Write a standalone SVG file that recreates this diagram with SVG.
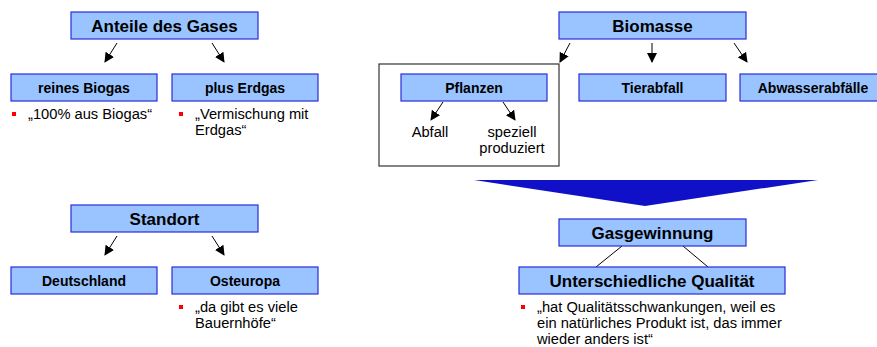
<svg xmlns="http://www.w3.org/2000/svg" width="877" height="347" viewBox="0 0 877 347">
<style>
.box{fill:#99c4ff;stroke:#2b2bdc;stroke-width:1.2}
.tb{font-family:"Liberation Sans",Arial,sans-serif;font-weight:bold;fill:#000;text-anchor:middle}
.t{font-family:"Liberation Sans",Arial,sans-serif;font-size:14.7px;fill:#000}
.c{text-anchor:middle}
.bul{fill:#ff0000}
.arr{stroke:#000;stroke-width:1;fill:none;marker-end:url(#ah)}
.ln{stroke:#000;stroke-width:1;fill:none}
</style>
<defs>
<marker id="ah" viewBox="0 0 10 10" refX="9" refY="5" markerWidth="10" markerHeight="10" markerUnits="userSpaceOnUse" orient="auto">
<path d="M0,0 L10,5 L0,10 z" fill="#000"/>
</marker>
</defs>
<rect width="877" height="347" fill="#fff"/>

<g id="connectors">
<line class="arr" x1="117" y1="43" x2="105" y2="62"/>
<line class="arr" x1="212" y1="43" x2="224" y2="62"/>
<line class="arr" x1="117" y1="236" x2="105" y2="255"/>
<line class="arr" x1="212" y1="236" x2="224" y2="255"/>
<line class="arr" x1="570" y1="43" x2="560" y2="62"/>
<line class="arr" x1="652" y1="43" x2="652" y2="62"/>
<line class="arr" x1="734" y1="43" x2="747" y2="62"/>
<line class="arr" x1="443" y1="102" x2="431" y2="120"/>
<line class="arr" x1="503" y1="102" x2="515" y2="120"/>
<line class="ln" x1="622" y1="246" x2="596" y2="267"/>
<line class="ln" x1="683" y1="246" x2="708" y2="267"/>
</g>

<g id="bigArrow">
<polygon points="474,180 818,180 645,206" fill="#1010c8"/>
</g>

<g id="anteile">
<rect class="box" x="71" y="12" width="187" height="27"/>
<text class="tb" x="164.5" y="31.5" font-size="17">Anteile des Gases</text>
</g>
<g id="reinesBiogas">
<rect class="box" x="11" y="74" width="146" height="27"/>
<text class="tb" x="84" y="92.5" font-size="14">reines Biogas</text>
<rect class="bul" x="12" y="112" width="4" height="4"/>
<text class="t" x="28" y="119">„100% aus Biogas“</text>
</g>
<g id="plusErdgas">
<rect class="box" x="172" y="74" width="146" height="27"/>
<text class="tb" x="245" y="92.5" font-size="14">plus Erdgas</text>
<rect class="bul" x="179" y="112" width="4" height="4"/>
<text class="t" x="195" y="119">„Vermischung mit</text>
<text class="t" x="195" y="135">Erdgas“</text>
</g>

<g id="standort">
<rect class="box" x="71" y="205" width="187" height="27"/>
<text class="tb" x="164.5" y="224.5" font-size="17">Standort</text>
</g>
<g id="deutschland">
<rect class="box" x="11" y="267" width="146" height="27"/>
<text class="tb" x="84" y="285.5" font-size="14">Deutschland</text>
</g>
<g id="osteuropa">
<rect class="box" x="172" y="267" width="146" height="27"/>
<text class="tb" x="245" y="285.5" font-size="14">Osteuropa</text>
<rect class="bul" x="179" y="305" width="4" height="4"/>
<text class="t" x="195" y="312">„da gibt es viele</text>
<text class="t" x="195" y="328">Bauernhöfe“</text>
</g>

<g id="biomasse">
<rect class="box" x="559" y="12" width="187" height="27"/>
<text class="tb" x="652.5" y="31.5" font-size="17">Biomasse</text>
</g>
<g id="pflanzenGruppe">
<rect x="379" y="64" width="180" height="102" fill="none" stroke="#333" stroke-width="1.2"/>
</g>
<g id="pflanzen">
<rect class="box" x="401" y="74" width="146" height="27"/>
<text class="tb" x="474" y="92.5" font-size="14">Pflanzen</text>
</g>
<g id="abfall">
<text class="t c" x="430" y="137">Abfall</text>
</g>
<g id="speziell">
<text class="t c" x="512" y="137">speziell</text>
<text class="t c" x="512" y="153">produziert</text>
</g>
<g id="tierabfall">
<rect class="box" x="579" y="74" width="147" height="27"/>
<text class="tb" x="652.5" y="92.5" font-size="14">Tierabfall</text>
</g>
<g id="abwasser">
<rect class="box" x="740" y="74" width="146" height="27"/>
<text class="tb" x="813" y="92.5" font-size="14">Abwasserabfälle</text>
</g>

<g id="gasgewinnung">
<rect class="box" x="559" y="219" width="187" height="27"/>
<text class="tb" x="652.5" y="238.5" font-size="17">Gasgewinnung</text>
</g>
<g id="qualitaet">
<rect class="box" x="519" y="267" width="266" height="27"/>
<text class="tb" x="652" y="286.5" font-size="17">Unterschiedliche Qualität</text>
<rect class="bul" x="521" y="305" width="4" height="4"/>
<text class="t" x="537" y="312">„hat Qualitätsschwankungen, weil es</text>
<text class="t" x="537" y="328">ein natürliches Produkt ist, das immer</text>
<text class="t" x="537" y="344">wieder anders ist“</text>
</g>
</svg>
